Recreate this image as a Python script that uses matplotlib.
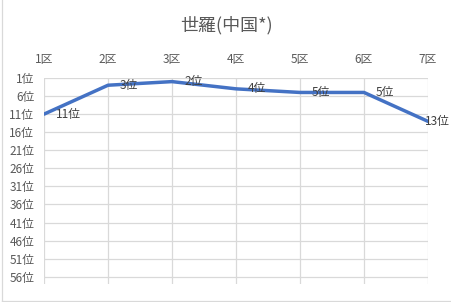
import matplotlib
matplotlib.use('Agg')
import matplotlib.pyplot as plt
from matplotlib.lines import Line2D

plt.rcParams['font.family'] = ['Noto Sans CJK JP', 'DejaVu Sans']

# data
sections = ['1区', '2区', '3区', '4区', '5区', '6区', '7区']
ranks = [11, 3, 2, 4, 5, 5, 13]
rank_ticks = [1, 6, 11, 16, 21, 26, 31, 36, 41, 46, 51, 56]
title = '世羅(中国*)'

fig = plt.figure(figsize=(4.52, 3.02), dpi=100)
ax = fig.add_axes([44 / 452, 1 - 284 / 302, 384 / 452, 206 / 302])

x = list(range(len(sections)))
ax.plot(x, ranks, color='#4472C4', linewidth=2.5, solid_capstyle='round', zorder=3)

for i, r in zip(x, ranks):
    dx = 12 if i < len(x) - 1 else -3
    ax.annotate(f'{r}位', (i, r), xytext=(dx, 0), textcoords='offset pixels',
                ha='left', va='center', fontsize=8.5, color='#404040', zorder=4)

ax.set_xlim(0, len(sections) - 1)
ax.set_ylim(58, 1)
ax.set_xticks(x)
ax.set_xticklabels(sections)
ax.set_yticks(rank_ticks)
ax.set_yticklabels([f'{t}位' for t in rank_ticks])
ax.xaxis.tick_top()
ax.tick_params(axis='x', length=0, pad=9, labelsize=8.5, labelcolor='#595959')
ax.tick_params(axis='y', length=0, pad=7, labelsize=8.5, labelcolor='#595959')
ax.grid(True, color='#D9D9D9', linewidth=0.9)
ax.set_axisbelow(True)
for s in ax.spines.values():
    s.set_visible(False)

fig.text(0.5, 1 - 25 / 302, title, ha='center', va='center', fontsize=13, color='#595959')

# chart area border (only left and bottom edges visible)
fig.lines.append(Line2D([2.5 / 452, 2.5 / 452], [1.5 / 302, 1], transform=fig.transFigure,
                        color='#D9D9D9', linewidth=0.9))
fig.lines.append(Line2D([2.5 / 452, 1], [1.5 / 302, 1.5 / 302], transform=fig.transFigure,
                        color='#D9D9D9', linewidth=0.9))

fig.savefig('out.png', dpi=100)
